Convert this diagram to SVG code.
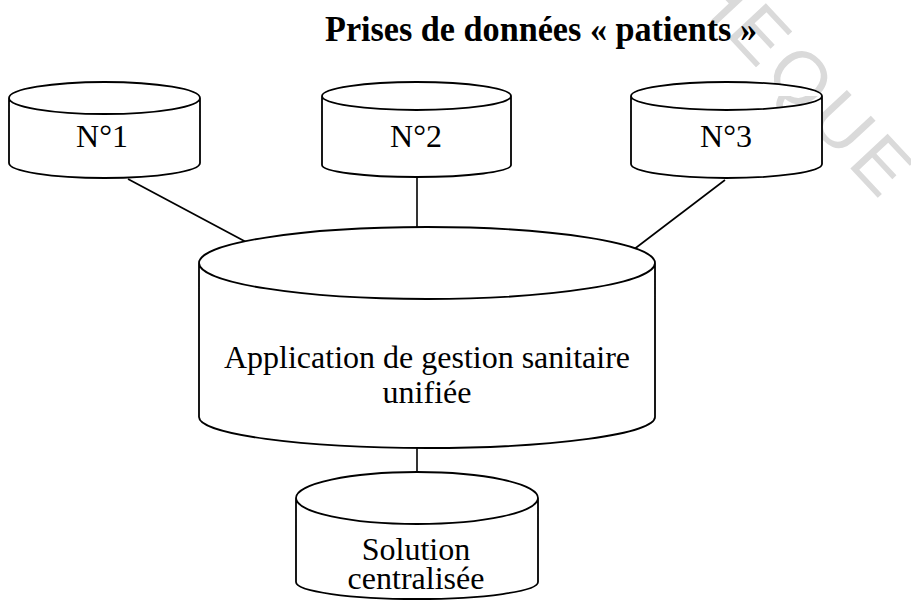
<svg xmlns="http://www.w3.org/2000/svg" width="911" height="614" viewBox="0 0 911 614">
  <style>
    .cyl { fill: #ffffff; stroke: #000000; stroke-width: 1.8; stroke-linejoin: round; }
    .link { fill: none; stroke: #000000; stroke-width: 1.6; }
    .lbl { font-family: "Liberation Serif", "Times New Roman", serif; font-size: 32px; fill: #000000; text-anchor: middle; }
    .title { font-family: "Liberation Serif", "Times New Roman", serif; font-size: 35px; font-weight: bold; fill: #000000; text-anchor: middle; }
    .mark { font-family: "Liberation Sans", Arial, sans-serif; font-size: 74px; fill: #dadada; letter-spacing: 6px; }
  </style>
  <rect width="911" height="614" fill="#ffffff"/>

  <!-- background watermark -->
  <g id="watermark" transform="translate(684,-10) rotate(47)">
    <text class="mark" x="0" y="0">HEQUE</text>
  </g>

  <text class="title" x="541" y="41" textLength="432" lengthAdjust="spacingAndGlyphs">Prises de données « patients »</text>

  <!-- connectors -->
  <g id="connectors">
    <line class="link" x1="128" y1="179" x2="248" y2="243"/>
    <line class="link" x1="417" y1="177" x2="417" y2="227"/>
    <line class="link" x1="725" y1="180" x2="633" y2="250"/>
    <line class="link" x1="417" y1="448" x2="417" y2="472"/>
  </g>

  <!-- source cylinders -->
  <g id="node-n1">
    <path class="cyl" d="M9,98 A95.5,16 0 0 1 200,98 A95.5,16 0 0 1 9,98 Z M9,98 L9,163 A95.5,15 0 0 0 200,163 L200,98"/>
    <text class="lbl" x="102" y="147">N°1</text>
  </g>
  <g id="node-n2">
    <path class="cyl" d="M322,96 A94.5,14 0 0 1 511,96 A94.5,14 0 0 1 322,96 Z M322,96 L322,165 A94.5,12 0 0 0 511,165 L511,96"/>
    <text class="lbl" x="416" y="147">N°2</text>
  </g>
  <g id="node-n3">
    <path class="cyl" d="M631,96 A95.5,14 0 0 1 822,96 A95.5,14 0 0 1 631,96 Z M631,96 L631,164 A95.5,14 0 0 0 822,164 L822,96"/>
    <text class="lbl" x="726" y="147">N°3</text>
  </g>

  <!-- central application -->
  <g id="node-app">
    <path class="cyl" d="M199,263 A228,36 0 0 1 655,263 A228,36 0 0 1 199,263 Z M199,263 L199,417 A228,31 0 0 0 655,417 L655,263"/>
    <text class="lbl" x="427" y="368">Application de gestion sanitaire</text>
    <text class="lbl" x="427" y="403">unifiée</text>
  </g>

  <!-- central storage -->
  <g id="node-solution">
    <path class="cyl" d="M296,498 A121,26 0 0 1 538,498 A121,26 0 0 1 296,498 Z M296,498 L296,582 A121,17 0 0 0 538,582 L538,498"/>
    <text class="lbl" x="416" y="560">Solution</text>
    <text class="lbl" x="416" y="589">centralisée</text>
  </g>
</svg>
